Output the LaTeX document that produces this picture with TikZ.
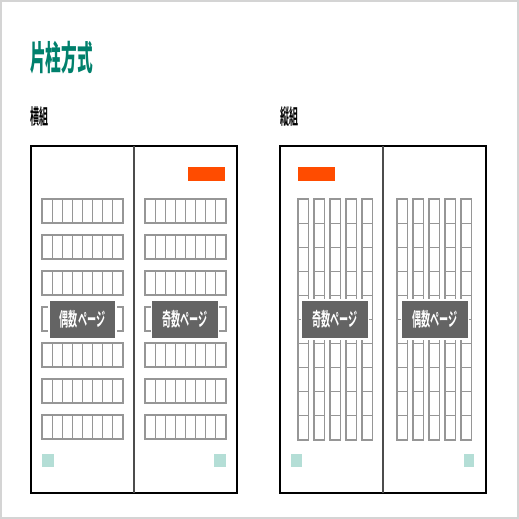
\documentclass[tikz,border=0pt]{standalone}
\usepackage{graphicx}
\usepackage{fontspec}
\usepackage{tikz}
\newfontfamily\jpfont{Noto Sans CJK JP}
\newfontfamily\jpbold{Noto Sans CJK JP Bold}
\newfontfamily\jpblack{Noto Sans CJK JP Black}
\definecolor{titleteal}{RGB}{0,128,108}
\definecolor{tagorange}{RGB}{255,76,0}
\definecolor{labelgray}{RGB}{100,100,100}
\definecolor{cellgray}{RGB}{150,150,150}
\definecolor{mintsq}{RGB}{180,222,214}
\definecolor{framegray}{RGB}{212,212,212}

\begin{document}
\begin{tikzpicture}[x=1pt,y=-1pt,
    cell/.style={draw=cellgray, line width=1.1pt, fill=white},
    pagelabel/.style={fill=labelgray, draw=white, line width=1.2pt, text=white,
        minimum width=67pt, minimum height=39pt, inner sep=0pt}]
    \useasboundingbox (0,0) rectangle (519,519);
    \fill[white] (0,0) rectangle (519,519);
    \draw[framegray, line width=2.5pt] (1,1) rectangle (518,518);

    % Title and headings
    \node[anchor=west, inner sep=0pt, text=titleteal] (title) at (30,58)
        {\jpblack\fontsize{34}{34}\selectfont\scalebox{0.46}[1]{片柱方式}};
    \node[anchor=west, inner sep=0pt] (yoko) at (30,117)
        {\jpbold\fontsize{21}{21}\selectfont\scalebox{0.43}[1]{横組}};
    \node[anchor=west, inner sep=0pt] (tate) at (280,117)
        {\jpbold\fontsize{21}{21}\selectfont\scalebox{0.43}[1]{縦組}};

    % Horizontal setting: rows of cells
    \foreach \x in {42,145} {
        \foreach \r in {0,...,6} {
            \foreach \c in {0,...,7} {
                \draw[cell] (\x+\c*10.125,199+\r*36) rectangle (\x+\c*10.125+10.125,199+\r*36+24);
            }
            \draw[cellgray, line width=1.6pt] (\x,199+\r*36) rectangle (\x+81,199+\r*36+24);
        }
    }

    % Vertical setting: columns of cells
    \foreach \x in {298,397} {
        \foreach \c in {0,...,4} {
            \foreach \r in {0,...,9} {
                \draw[cell] (\x+\c*16,199+\r*24.1) rectangle (\x+\c*16+10.5,199+\r*24.1+24.1);
            }
        }
    }

    % Page frames
    \draw[black, line width=1.3pt] (31,146) rectangle (237,493);
    \draw[black!70, line width=1.3pt] (134,146) -- (134,493);
    \draw[black, line width=1.3pt] (280,146) rectangle (486,493);
    \draw[black!70, line width=1.3pt] (383,146) -- (383,493);

    % Orange tags
    \fill[tagorange] (188,167) rectangle (225,181);
    \fill[tagorange] (298,167) rectangle (335,181);

    % Mint squares
    \fill[mintsq] (42,454) rectangle (54,467);
    \fill[mintsq] (214,454) rectangle (226,467);
    \fill[mintsq] (291,454) rectangle (302,467);
    \fill[mintsq] (464,454) rectangle (474,467);

    % Page labels
    \node[pagelabel] (yokoeven) at (82.5,319.5)
        {\jpbold\fontsize{19}{19}\selectfont\scalebox{0.48}[1]{偶数ページ}};
    \node[pagelabel] (yokoodd) at (185,319.5)
        {\jpbold\fontsize{19}{19}\selectfont\scalebox{0.48}[1]{奇数ページ}};
    \node[pagelabel] (tateodd) at (335,319.5)
        {\jpbold\fontsize{19}{19}\selectfont\scalebox{0.48}[1]{奇数ページ}};
    \node[pagelabel] (tateeven) at (435,319.5)
        {\jpbold\fontsize{19}{19}\selectfont\scalebox{0.48}[1]{偶数ページ}};
\end{tikzpicture}
\end{document}
